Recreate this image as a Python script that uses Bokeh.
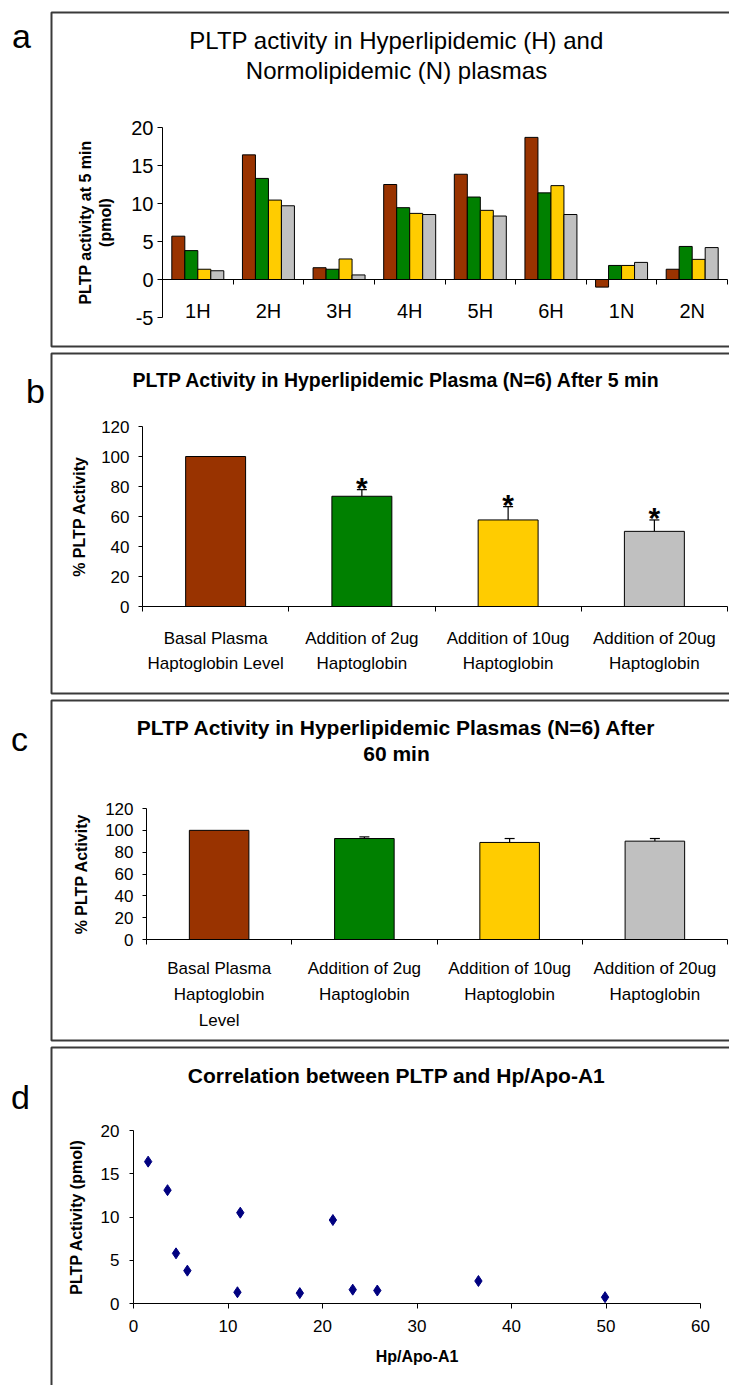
from bokeh.plotting import figure
from bokeh.layouts import column
from bokeh.models import (ColumnDataSource, Range1d, LinearAxis,
                          FixedTicker, Label, BoxAnnotation, Whisker, TeeHead)
from bokeh.transform import dodge
from bokeh.core.properties import value
from bokeh.embed import file_html
from bokeh.resources import INLINE

FONT = "Liberation Sans"

# ---------------- data ----------------
# panel a
samples_a = ["1H", "2H", "3H", "4H", "5H", "6H", "1N", "2N"]
basal_a = [5.7, 16.4, 1.55, 12.5, 13.85, 18.7, -1.0, 1.35]
add2_a = [3.8, 13.3, 1.35, 9.45, 10.85, 11.4, 1.85, 4.35]
add10_a = [1.35, 10.45, 2.7, 8.7, 9.1, 12.35, 1.85, 2.65]
add20_a = [1.15, 9.7, 0.6, 8.55, 8.35, 8.55, 2.25, 4.2]
yticks_a = [-5, 0, 5, 10, 15, 20]

# panels b and c
treat_labels_b = ["Basal Plasma\nHaptoglobin Level", "Addition of 2ug\nHaptoglobin",
                  "Addition of 10ug\nHaptoglobin", "Addition of 20ug\nHaptoglobin"]
treat_labels_c = ["Basal Plasma\nHaptoglobin\nLevel", "Addition of 2ug\nHaptoglobin",
                  "Addition of 10ug\nHaptoglobin", "Addition of 20ug\nHaptoglobin"]
mean_b = [100, 73.5, 57.7, 50.1]
err_b = [0, 4.4, 8.9, 7.6]
sig_b = ["", "*", "*", "*"]
mean_c = [100, 92.5, 88.9, 90.1]
err_c = [0, 1.5, 3.6, 2.4]
pct_ticks = [0, 20, 40, 60, 80, 100, 120]

# panel d
hp_apo = [1.55, 3.6, 4.5, 5.7, 11.3, 11.0, 17.6, 21.1, 23.2, 25.8, 36.5, 49.9]
pltp_d = [16.4, 13.1, 5.8, 3.8, 10.5, 1.3, 1.2, 9.65, 1.6, 1.5, 2.6, 0.73]
xticks_d = [0, 10, 20, 30, 40, 50, 60]
yticks_d = [0, 5, 10, 15, 20]

COLORS = ["#993300", "#008000", "#FFCC00", "#C0C0C0"]
BOX = "#3a3a3a"
W = 729


def frame(H, xv0, xp0, xv1, xp1, yv0, yp0, yv1, yp1):
    """Ranges so that the whole canvas is the frame; pixel positions are canvas px (y from top)."""
    sx = (xv1 - xv0) / (xp1 - xp0)
    sy = (yv1 - yv0) / (yp0 - yp1)
    xr = Range1d(xv0 - xp0 * sx, xv0 + (W - xp0) * sx)
    yr = Range1d(yv0 - (H - yp0) * sy, yv0 + yp0 * sy)
    fx = lambda px: xv0 + (px - xp0) * sx
    fy = lambda py: yv0 + (yp0 - py) * sy
    return xr, yr, fx, fy


def base_fig(H, xr, yr):
    p = figure(width=W, height=H, x_range=xr, y_range=yr,
               x_axis_location=None, y_axis_location=None,
               output_backend="svg", toolbar_location=None,
               min_border_left=0, min_border_right=0, min_border_top=0, min_border_bottom=0)
    p.xgrid.visible = False
    p.ygrid.visible = False
    p.outline_line_color = None
    p.background_fill_color = "white"
    p.border_fill_color = "white"
    return p


def style_axis(ax, size, tick_out=4, standoff=6):
    ax.major_label_text_font = FONT
    ax.major_label_text_font_size = f"{size}px"
    ax.major_label_text_color = "black"
    ax.major_label_standoff = standoff
    ax.axis_line_color = "black"
    ax.axis_line_width = 1
    ax.major_tick_line_color = "black"
    ax.major_tick_in = 0
    ax.major_tick_out = tick_out
    ax.minor_tick_line_color = None
    ax.axis_label_text_font = FONT
    ax.axis_label_text_font_style = "bold"
    ax.axis_label_text_color = "black"


def value_axis(p, ticks, x_at, size, standoff, label, label_size, label_standoff, overrides=None):
    ax = LinearAxis(ticker=FixedTicker(ticks=ticks, minor_ticks=[]), fixed_location=x_at,
                    bounds=(min(ticks), max(ticks)))
    style_axis(ax, size, tick_out=4, standoff=standoff)
    if overrides:
        ax.major_label_overrides = overrides
    ax.axis_label = label
    ax.axis_label_text_font_size = label_size
    ax.axis_label_standoff = label_standoff
    p.add_layout(ax, "left")
    return ax


def category_axis(p, cats, size, standoff, line_h=1.2):
    n = len(cats)
    bnds = list(range(n + 1))
    centers = [i + 0.5 for i in range(n)]
    ax = LinearAxis(ticker=FixedTicker(ticks=centers, minor_ticks=bnds), fixed_location=0,
                    bounds=(0, n),
                    major_label_overrides={c: lab for c, lab in zip(centers, cats)})
    style_axis(ax, size, tick_out=0, standoff=standoff)
    ax.major_tick_line_color = None
    ax.minor_tick_line_color = "black"
    ax.minor_tick_in = 0
    ax.minor_tick_out = 5
    ax.major_label_text_line_height = line_h
    p.add_layout(ax, "below")
    return centers


def decorate(p, fx, fy, H, letter, lx, ly, box_top, box_bottom, titles, tsize, tstyle):
    p.add_layout(BoxAnnotation(left=fx(51), right=fx(W + 60), top=fy(box_top), bottom=fy(box_bottom),
                               fill_color=None, fill_alpha=0, line_color=BOX, line_alpha=1,
                               line_width=2, level="overlay"))
    p.add_layout(Label(x=fx(lx), y=fy(ly), text=letter, text_font=FONT, text_font_size="34px",
                       text_align="center", text_baseline="alphabetic", text_color="black"))
    for (ty, txt) in titles:
        p.add_layout(Label(x=fx(396), y=fy(ty), text=txt, text_font=FONT, text_font_size=tsize,
                           text_font_style=tstyle, text_align="center",
                           text_baseline="middle", text_color="black"))


# ---------------- panel a ----------------
HA = 350
xr, yr, fx, fy = frame(HA, 0, 162, len(samples_a), 727, -5, 317, 20, 127)
pa = base_fig(HA, xr, yr)
value_axis(pa, yticks_a, 0, 20, 4, "PLTP activity at 5 min\n(pmol)", "16px", 14,
           overrides={-5: "-5"})
pa.yaxis[0].major_tick_out = 5
centers_a = category_axis(pa, samples_a, 20, 15)
src_a = ColumnDataSource(dict(xc=centers_a, basal=basal_a, add2=add2_a,
                              add10=add10_a, add20=add20_a))
for (col, off), colr in zip([("basal", -0.276), ("add2", -0.092), ("add10", 0.092), ("add20", 0.276)], COLORS):
    pa.vbar(x=dodge("xc", off), top=col, bottom=0, width=0.184,
            source=src_a, fill_color=colr, line_color="black", line_width=1)
decorate(pa, fx, fy, HA, "a", 21, 35, 12, 346,
         [(40, "PLTP activity in Hyperlipidemic (H) and"), (70, "Normolipidemic (N) plasmas")],
         "24px", "normal")


# ---------------- panels b and c ----------------
def pct_panel(H, means, errs, sig, labels, left, top_px, zero_px, lab_standoff, line_h,
              ylab_standoff, letter, lx, ly, box_top, box_bottom, titles, tsize):
    xr, yr, fx, fy = frame(H, 0, left, len(labels), 727, 0, zero_px, 120, top_px)
    p = base_fig(H, xr, yr)
    value_axis(p, pct_ticks, 0, 17, 9, "% PLTP Activity", "16px", ylab_standoff)
    centers = category_axis(p, labels, 17, lab_standoff, line_h)
    src = ColumnDataSource(dict(xc=centers, mean=means, color=COLORS))
    p.vbar(x="xc", top="mean", bottom=0, width=0.41, source=src, fill_color="color",
           line_color="black", line_width=1)
    keep = [i for i, e in enumerate(errs) if e > 0]
    wsrc = ColumnDataSource(dict(xc=[centers[i] for i in keep],
                                 lower=[means[i] for i in keep],
                                 upper=[means[i] + errs[i] for i in keep]))
    p.add_layout(Whisker(base="xc", lower="lower", upper="upper", source=wsrc,
                         line_color="black", line_width=1.2,
                         upper_head=TeeHead(size=10, line_color="black", line_width=1.2),
                         lower_head=None))
    if sig is not None:
        ssrc = ColumnDataSource(dict(xc=[centers[i] for i in keep],
                                     upper=[means[i] + errs[i] for i in keep],
                                     sig=[sig[i] for i in keep]))
        p.text(x="xc", y="upper", text="sig", source=ssrc, text_font=value(FONT),
               text_font_size="30px", text_font_style="bold", text_align="center",
               text_baseline="alphabetic", y_offset=-2, text_color="black")
    decorate(p, fx, fy, H, letter, lx, ly, box_top, box_bottom, titles, tsize, "bold")
    return p


pb = pct_panel(346, mean_b, err_b, sig_b, treat_labels_b, 142, 76, 256, 17, 1.35, 10,
               "b", 35, 40, 3, 343,
               [(29, "PLTP Activity in Hyperlipidemic Plasma (N=6) After 5 min")], "19.5px")
pc = pct_panel(347, mean_c, err_c, None, treat_labels_c, 146, 112, 243, 14, 1.38, 12,
               "c", 19, 42, 4, 344,
               [(31, "PLTP Activity in Hyperlipidemic Plasmas (N=6) After"), (57, "60 min")], "21px")

# ---------------- panel d ----------------
HD = 342
xr, yr, fx, fy = frame(HD, 0, 133, 60, 700, 0, 260, 20, 87)
pdd = base_fig(HD, xr, yr)
src_d = ColumnDataSource(dict(x=hp_apo, y=pltp_d))
pdd.scatter(x="x", y="y", source=src_d, marker="diamond", size=11,
            fill_color="#000080", line_color="#000080")
xd = LinearAxis(ticker=FixedTicker(ticks=xticks_d, minor_ticks=[]), fixed_location=0,
                bounds=(0, 60))
style_axis(xd, 17, tick_out=5, standoff=11)
xd.axis_label = "Hp/Apo-A1"
xd.axis_label_text_font_size = "16px"
xd.axis_label_standoff = 13
pdd.add_layout(xd, "below")
value_axis(pdd, yticks_d, 0, 17, 10, "PLTP Activity (pmol)", "16px", 13)
decorate(pdd, fx, fy, HD, "d", 20, 53, 4, 500,
         [(32, "Correlation between PLTP and Hp/Apo-A1")], "21px", "bold")

layout = column(pa, pb, pc, pdd, spacing=0)
open("out.html", "w").write(file_html(layout, INLINE))
